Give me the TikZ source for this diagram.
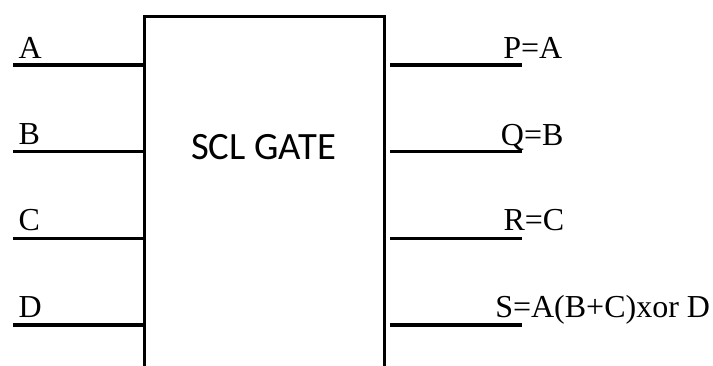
\documentclass[tikz,border=0pt]{standalone}
\usepackage{fontspec}
\setmainfont{Liberation Serif}
\newfontfamily\gatefont{Carlito}
\usetikzlibrary{positioning}

\begin{document}
\begin{tikzpicture}[x=0.75pt,y=-0.75pt,
  gatebox/.style={draw,line width=2.3pt,minimum width=180pt,minimum height=300pt,inner sep=0pt},
  wire/.style={line width=2.3pt},
  pinlbl/.style={anchor=base west,inner sep=0pt,font=\fontsize{24}{27}\selectfont},
  gatelbl/.style={anchor=base,inner sep=0pt,font=\gatefont\fontsize{29}{32}\selectfont}
]
  \clip (0,0) rectangle (713,365);
  % Gate
  \node[gatebox] (gate) at (264.3,216.3) {};
  \node[gatelbl] (title) at (263.5,159) {SCL GATE};

  % Inputs
  \coordinate (inA) at (13.3,65);
  \coordinate (inB) at (13.3,151.7);
  \coordinate (inC) at (13.3,238.3);
  \coordinate (inD) at (13.3,325);
  \draw[wire] (inA) -- (inA -| gate.west);
  \draw[wire] (inB) -- (inB -| gate.west);
  \draw[wire] (inC) -- (inC -| gate.west);
  \draw[wire] (inD) -- (inD -| gate.west);
  \node[pinlbl] (lA) at (18.3,58) {A};
  \node[pinlbl] (lB) at (18.3,144.5) {B};
  \node[pinlbl] (lC) at (18.3,230.5) {C};
  \node[pinlbl] (lD) at (18.3,317.5) {D};

  % Outputs
  \coordinate (outP) at (521.7,65);
  \coordinate (outQ) at (521.7,151.7);
  \coordinate (outR) at (521.7,238.3);
  \coordinate (outS) at (521.7,325);
  \draw[wire] ([xshift=3pt]outP -| gate.east) -- (outP);
  \draw[wire] ([xshift=3pt]outQ -| gate.east) -- (outQ);
  \draw[wire] ([xshift=3pt]outR -| gate.east) -- (outR);
  \draw[wire] ([xshift=3pt]outS -| gate.east) -- (outS);
  \node[pinlbl] (lP) at (503,58) {P=A};
  \node[pinlbl] (lQ) at (500.7,145) {Q=B};
  \node[pinlbl] (lR) at (503.3,230.5) {R=C};
  \node[pinlbl] (lS) at (495,317.5) {S=A(B+C)xor D};
\end{tikzpicture}
\end{document}
